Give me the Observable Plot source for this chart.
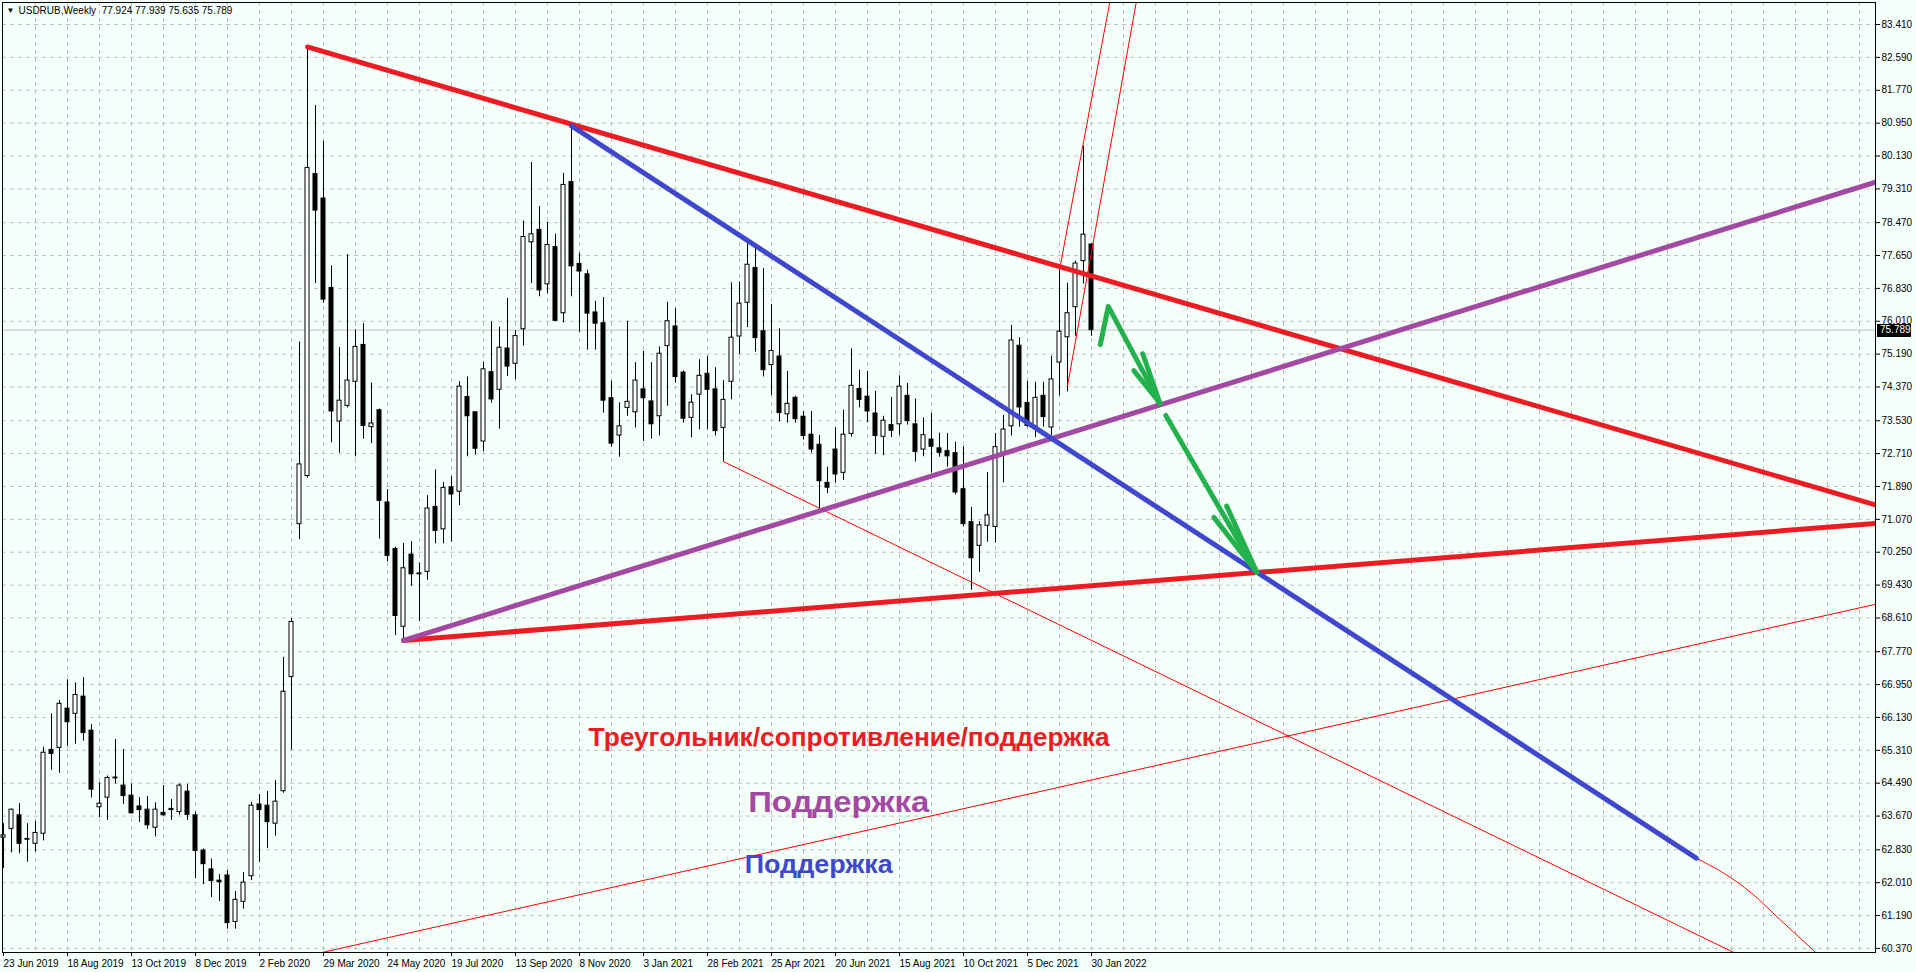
<!DOCTYPE html>
<html>
<head>
<meta charset="utf-8">
<script src="https://cdn.jsdelivr.net/npm/d3@7"></script>
<script src="https://cdn.jsdelivr.net/npm/@observablehq/plot@0.6"></script>
<style>
html, body { margin: 0; padding: 0; background: #f5fff9; overflow: hidden; }
#chart { width: 1916px; height: 972px; overflow: hidden; }
#chart svg { display: block; }
</style>
</head>
<body>
<div id="chart"></div>
<script>
// ---------------- DATA ----------------
const symbol = "USDRUB,Weekly";
const firstWeek = "2019-06-23";   // date of candle 0 (weekly bars)

const opens = [63.13,63.35,63.69,63.10,62.98,63.23,65.32,65.37,66.35,66.22,66.65,65.80,63.89,64.13,64.63,64.43,64.18,63.91,63.83,63.38,
63.75,63.85,63.77,64.28,63.69,62.81,62.34,62.06,62.19,61.03,61.53,62.17,63.96,63.93,63.48,64.29,67.14,70.95,72.15,79.68,
79.07,76.84,73.51,73.90,74.50,75.42,73.37,73.79,71.49,70.33,68.39,70.19,69.72,69.76,71.38,70.82,71.87,71.76,74.12,73.74,
73.01,74.74,74.30,75.33,74.95,75.81,77.98,78.29,76.93,77.86,76.21,79.48,77.44,77.18,76.23,75.96,74.09,73.16,73.85,73.74,
74.31,74.01,73.64,75.39,75.88,74.73,73.60,74.18,74.70,74.31,73.35,74.50,75.63,76.47,77.34,75.76,74.92,75.13,73.69,74.10,
73.63,73.18,72.93,71.98,72.81,72.23,73.20,74.32,74.13,73.71,73.13,73.42,73.44,74.15,73.44,72.81,73.06,72.84,72.77,72.72,
71.82,71.00,70.41,70.91,70.88,72.71,73.39,75.40,73.97,73.39,74.15,73.36,74.98,75.61,76.36,77.51,77.924];
const highs = [63.48,63.85,63.98,63.48,63.54,65.39,66.22,66.55,67.07,66.99,67.12,65.95,64.50,64.67,65.58,65.33,64.47,64.13,64.16,64.00,
64.43,64.08,64.47,64.46,63.77,62.85,62.60,62.21,62.31,61.79,62.26,64.01,64.21,64.28,64.56,67.63,68.60,75.49,82.85,81.39,
80.50,77.39,75.35,77.67,75.79,75.95,74.47,73.82,71.81,70.37,70.47,70.51,69.98,71.66,72.30,71.99,72.14,74.50,74.62,73.74,
74.99,75.99,75.86,76.58,75.78,78.51,79.97,78.87,78.47,78.18,79.70,80.88,77.71,77.28,76.51,76.60,74.52,73.98,76.01,74.98,
75.26,74.98,75.37,76.48,76.33,74.77,74.18,75.05,75.13,74.85,74.53,76.97,76.99,78.03,77.90,77.33,76.43,75.82,74.76,74.14,
73.76,73.76,73.16,72.37,73.35,73.79,75.32,74.79,74.75,74.26,73.64,74.11,74.65,74.46,74.07,73.60,73.71,73.22,73.21,72.99,
72.88,71.37,71.01,72.24,73.21,73.66,75.91,75.60,74.51,74.49,74.49,75.14,77.29,76.96,77.51,80.38,77.939];
const lows = [62.36,62.75,62.73,62.52,62.77,63.05,64.81,64.74,65.41,65.46,65.54,64.12,63.63,63.56,64.47,63.96,63.73,63.51,63.34,63.15,
63.67,63.56,63.69,63.56,62.11,61.96,61.64,61.54,60.85,60.85,61.35,62.06,62.51,62.86,63.17,64.24,65.31,70.56,72.10,76.95,
76.46,72.98,72.72,73.85,72.63,73.07,72.96,70.58,70.01,68.17,68.05,69.40,68.53,69.55,70.46,70.46,70.50,71.41,72.63,72.67,
72.76,73.97,73.32,74.63,74.55,75.39,76.95,76.62,76.69,76.02,75.97,76.62,75.73,75.29,75.29,73.72,72.87,72.62,73.64,73.35,
73.01,73.07,73.15,73.89,74.47,73.47,73.10,73.30,73.30,73.15,72.51,74.05,75.18,75.85,75.24,74.62,74.16,73.50,73.47,73.47,
73.05,72.72,71.33,71.71,71.98,72.04,73.12,73.85,73.48,72.69,72.66,73.11,73.17,73.42,72.50,72.63,72.22,72.62,72.37,71.68,
70.88,69.30,69.75,70.50,70.48,71.98,73.15,73.37,73.36,73.11,73.37,73.15,74.15,74.25,75.64,76.94,75.635];
const closes = [63.19,63.83,62.98,63.08,63.25,65.25,65.22,66.47,66.01,66.69,65.74,64.33,63.98,64.62,64.61,64.17,63.74,63.82,63.44,63.83,
63.69,63.82,64.43,63.70,62.80,62.47,62.05,62.02,61.00,61.58,62.01,63.93,63.82,63.52,64.03,66.77,68.51,72.44,79.83,78.77,
76.55,73.76,74.03,74.53,75.37,73.40,73.46,71.53,70.16,68.66,69.85,69.70,69.70,71.34,70.78,71.85,71.69,74.38,73.64,72.83,
74.81,74.06,75.35,74.88,75.64,78.11,78.18,76.78,77.91,76.02,79.41,77.38,77.25,76.20,75.95,74.03,72.96,73.39,74.00,74.53,
74.09,73.44,75.20,76.01,74.62,73.58,73.98,74.65,74.30,73.27,74.05,75.60,76.45,77.42,75.59,74.79,75.27,73.72,73.95,73.57,
73.15,72.81,72.02,71.86,72.19,73.18,74.40,74.05,73.76,73.15,73.53,73.28,74.38,73.52,72.75,73.17,72.88,72.73,72.64,71.74,
70.95,70.10,70.92,71.17,72.87,73.31,75.53,73.86,73.40,74.10,73.62,74.56,75.75,76.21,77.45,78.17,75.789];

const yTickLabels = ["83.410","82.590","81.770","80.950","80.130","79.310","78.470","77.650","76.830","76.010",
"75.190","74.370","73.530","72.710","71.890","71.070","70.250","69.430","68.610","67.770","66.950","66.130",
"65.310","64.490","63.670","62.830","62.010","61.190","60.370"];
const xTickLabels = ["23 Jun 2019","18 Aug 2019","13 Oct 2019","8 Dec 2019","2 Feb 2020","29 Mar 2020",
"24 May 2020","19 Jul 2020","13 Sep 2020","8 Nov 2020","3 Jan 2021","28 Feb 2021","25 Apr 2021",
"20 Jun 2021","15 Aug 2021","10 Oct 2021","5 Dec 2021","30 Jan 2022"];

// trend lines: [week index, price] pairs
const resistanceLine   = [[38, 82.85], [234, 71.43]];
const triangleSupport  = [[50, 68.05], [234, 70.97]];
const purpleSupport    = [[50, 68.05], [234, 79.48]];
const blueSupport      = [[71, 80.88], [211.6, 62.62]];
const thinRedA         = [[90, 72.51], [240, 57.97]];
const thinRedB         = [[30, 59.83], [240, 69.22]];
const thinRedC         = [[132, 77.29], [139.5, 85.26]];
const thinRedD         = [[133, 74.40], [143, 85.53]];
const thinRedArc       = [[211.6, 62.62], [215, 62.25], [218.5, 61.75], [222, 61.1], [225, 60.55], [226.5, 60.27], [227.5, 60.05]];
const greenArrow1      = [[137.1, 75.43], [138.1, 76.38], [144.54, 73.97]];
const greenArrow1Head  = [[[144.54, 73.97], [141.29, 74.78]], [[144.54, 73.97], [142.41, 75.20]]];
const greenArrow2      = [[145.29, 73.66], [156.66, 69.75]];
const greenArrow2Head  = [[[156.66, 69.75], [151.3, 71.12]], [[156.66, 69.75], [152.9, 71.4]]];

const annotations = [
  {i: 105.7, v: 65.63, text: "Треугольник/сопротивление/поддержка", color: "#ed1c24", size: 26, len: 521},
  {i: 104.4, v: 64.01, text: "Поддержка", color: "#a349a4", size: 30, len: 181},
  {i: 101.9, v: 62.46, text: "Поддержка", color: "#3f48cc", size: 25, len: 148}
];

// ---------------- BUILD ----------------
const DAY = 864e5;
const t0 = Date.parse(firstWeek + "T00:00:00Z");
const parseLabel = d3.utcParse("%d %b %Y");
const xTicks = xTickLabels.map(s => Math.round((parseLabel(s) - t0) / (7 * DAY)));
const xLabelOf = new Map(xTicks.map((t, k) => [t, xTickLabels[k]]));
const yTicks = yTickLabels.map(Number);

const candles = opens.map((o, i) => ({i, open: o, high: highs[i], low: lows[i], close: closes[i]}));
const last = candles[candles.length - 1];
const title = `${symbol}  ${last.open.toFixed(3)} ${last.high.toFixed(3)} ${last.low.toFixed(3)} ${last.close.toFixed(3)}`;

const toPts = arr => arr.map(([i, v]) => ({i, v}));
const lineMark = (arr, stroke, w) => Plot.line(toPts(arr), {x: "i", y: "v", stroke, strokeWidth: w, clip: true});

const RED = "#ed1c24", PURPLE = "#a349a4", BLUE = "#3f48cc", GREEN = "#22b14c", THIN = "#ff0000";

const chart = Plot.plot({
  width: 1916,
  height: 972,
  marginLeft: 2,
  marginRight: 41,
  marginTop: 2,
  marginBottom: 20,
  style: {background: "transparent", fontFamily: "'Liberation Sans', Arial, sans-serif", fontSize: "10px", color: "#000"},
  x: {type: "linear", domain: [-0.125, 234], axis: null, label: null},
  y: {type: "linear", domain: [60.268, 83.959], axis: null, label: null},
  marks: [
    Plot.ruleY(yTicks, {stroke: "#c0c0c0", strokeDasharray: "4,4"}),
    Plot.ruleX(d3.range(4, 234, 4), {stroke: "#c0c0c0", strokeDasharray: "4,4"}),
    Plot.ruleY([last.close], {stroke: "#c0c0c0"}),
    // candles
    Plot.ruleX(candles, {x: "i", y1: "low", y2: "high", stroke: "black"}),
    Plot.rect(candles, {
      x1: d => d.i - 0.25, x2: d => d.i + 0.25,
      y1: "open", y2: "close",
      fill: d => d.close >= d.open ? "white" : "black",
      stroke: "black"
    }),
    // thin MT4 trend lines
    lineMark(thinRedA, THIN, 1),
    lineMark(thinRedB, THIN, 1),
    lineMark(thinRedC, THIN, 1),
    lineMark(thinRedD, THIN, 1),
    Plot.line(toPts(thinRedArc), {x: "i", y: "v", stroke: THIN, strokeWidth: 1, curve: "catmull-rom", clip: true}),
    // thick hand-drawn lines
    lineMark(resistanceLine, RED, 5),
    lineMark(triangleSupport, RED, 5),
    lineMark(purpleSupport, PURPLE, 5),
    lineMark(blueSupport, BLUE, 5),
    // green arrows
    lineMark(greenArrow1, GREEN, 5),
    ...greenArrow1Head.map(seg => lineMark(seg, GREEN, 5)),
    lineMark(greenArrow2, GREEN, 5),
    ...greenArrow2Head.map(seg => lineMark(seg, GREEN, 5)),
    // annotations
    ...annotations.map(a => Plot.text([a], {x: "i", y: "v", text: "text", fill: a.color, fontSize: a.size, fontWeight: "bold",
      fontFamily: "'Liberation Sans', Arial, sans-serif"})),
    // title
    Plot.text(["▼"], {frameAnchor: "top-left", dx: 4, dy: 5, fontSize: 8, fill: "black", textAnchor: "start"}),
    Plot.text([title], {frameAnchor: "top-left", dx: 16, dy: 4, fontSize: 10, fill: "black", textAnchor: "start"}),
    // axes
    Plot.axisY({anchor: "right", label: null, ticks: yTicks, tickFormat: d => d.toFixed(3), tickSize: 4, tickPadding: 2, fontSize: 10}),
    Plot.axisX({anchor: "bottom", label: null, ticks: xTicks, tickFormat: t => xLabelOf.get(t), tickSize: 4, tickPadding: 3,
      textAnchor: "start", fontSize: 10}),
    Plot.frame({stroke: "black"})
  ]
});

document.getElementById("chart").appendChild(chart);

const svg = d3.select(chart);
annotations.forEach(a => {
  svg.selectAll("text").filter(function() {
    return this.textContent === a.text && (this.getAttribute("fill") === a.color || this.parentNode.getAttribute("fill") === a.color);
  }).attr("textLength", a.len).attr("lengthAdjust", "spacingAndGlyphs");
});
// current price tag on the price axis
const py = chart.scale("y").apply(last.close);
const tag = svg.append("g").attr("text-anchor", "start");
tag.append("rect").attr("x", 1877).attr("y", Math.round(py) - 6).attr("width", 34).attr("height", 13).attr("fill", "black");
tag.append("text").attr("x", 1880).attr("y", py).attr("dy", "0.35em").attr("fill", "white").attr("text-anchor", "start")
  .attr("font-size", 10).attr("font-family", "'Liberation Sans', Arial, sans-serif").text(last.close.toFixed(3));
</script>
</body>
</html>
